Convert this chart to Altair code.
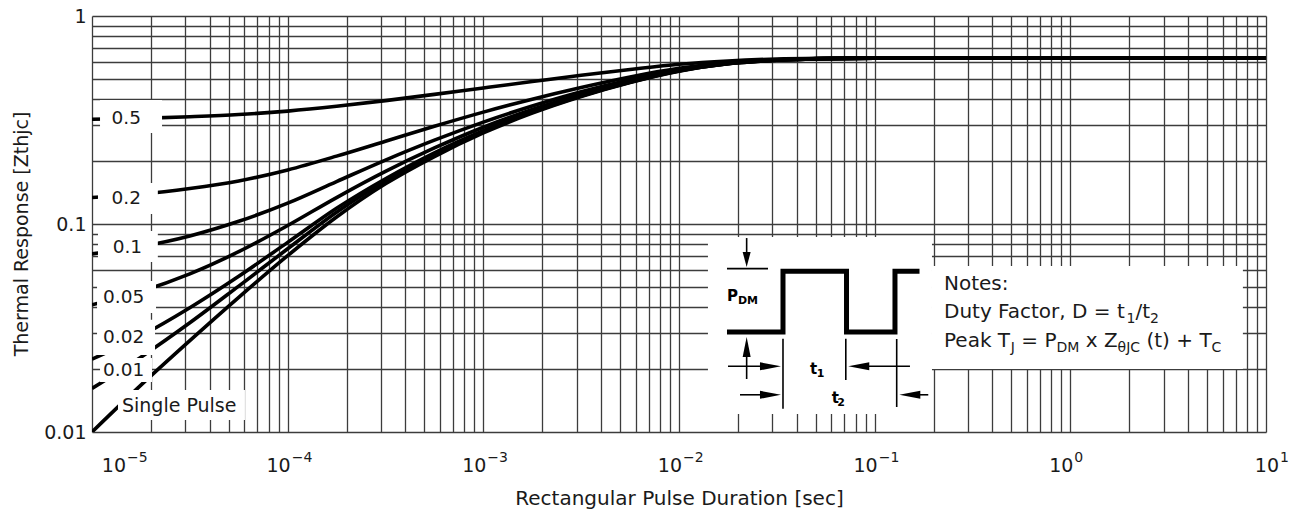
import altair as alt
import pandas as pd

# ---------------- data ----------------
t_vals = [1e-5, 1.778e-5, 3.162e-5, 5.623e-5, 1e-4, 1.778e-4, 3.162e-4, 5.623e-4, 1e-3, 1.778e-3,
          3.162e-3, 5.623e-3, 1e-2, 1.778e-2, 3.162e-2, 5.623e-2, 1e-1, 1, 10]

z_d050 = [0.319, 0.322, 0.328, 0.336, 0.349, 0.368, 0.392, 0.420, 0.451, 0.484,
          0.519, 0.553, 0.586, 0.608, 0.621, 0.626, 0.628, 0.628, 0.628]
z_d020 = [0.134, 0.139, 0.148, 0.161, 0.182, 0.212, 0.250, 0.295, 0.345, 0.398,
          0.453, 0.509, 0.560, 0.597, 0.616, 0.625, 0.627, 0.628, 0.628]
z_d010 = [0.0718, 0.0779, 0.0876, 0.103, 0.126, 0.160, 0.203, 0.253, 0.309, 0.369,
          0.432, 0.494, 0.552, 0.593, 0.615, 0.624, 0.627, 0.628, 0.628]
z_d005 = [0.0409, 0.0474, 0.0576, 0.0736, 0.0983, 0.134, 0.179, 0.232, 0.292, 0.355,
          0.421, 0.486, 0.548, 0.591, 0.614, 0.624, 0.627, 0.628, 0.628]
z_d002 = [0.0224, 0.0290, 0.0396, 0.0561, 0.0816, 0.119, 0.165, 0.220, 0.281, 0.347,
          0.414, 0.482, 0.545, 0.590, 0.614, 0.624, 0.627, 0.628, 0.628]
z_d001 = [0.0162, 0.0229, 0.0335, 0.0503, 0.0760, 0.114, 0.161, 0.216, 0.278, 0.344,
          0.412, 0.480, 0.544, 0.589, 0.613, 0.624, 0.627, 0.628, 0.628]
z_single = [0.0100, 0.0168, 0.0275, 0.0444, 0.0704, 0.108, 0.156, 0.211, 0.274, 0.341,
            0.410, 0.479, 0.543, 0.589, 0.613, 0.624, 0.627, 0.628, 0.628]

series_names = ["0.5", "0.2", "0.1", "0.05", "0.02", "0.01", "Single Pulse"]
series_vals = [z_d050, z_d020, z_d010, z_d005, z_d002, z_d001, z_single]

# curve labels (left edge / baseline, in data units)
lab_text = ["0.5", "0.2", "0.1", "0.05", "0.02", "0.01"]
lab_t = [1.258e-5, 1.258e-5, 1.276e-5, 1.138e-5, 1.138e-5, 1.138e-5]
lab_z = [0.3026, 0.1248, 0.0728, 0.04157, 0.02688, 0.01859]
sp_text = ["Single Pulse"]
sp_t = [1.423e-5]
sp_z = [0.01252]

# white label / inset backgrounds
box_t = [1.099e-5, 1.073e-5, 1.073e-5, 1.061e-5, 1.061e-5, 1.099e-5, 1.358e-5, 0.01406, 0.1963]
box_t2 = [2.28e-5, 2.17e-5, 2.17e-5, 2.124e-5, 2.10e-5, 2.026e-5, 6.05e-5, 0.1963, 7.62]
box_z = [0.3947, 0.1575, 0.0925, 0.0532, 0.0346, 0.0227, 0.01592, 0.0866, 0.0628]
box_z2 = [0.2739, 0.1117, 0.0657, 0.03734, 0.02345, 0.0174, 0.01142, 0.01221, 0.0201]

# pulse diagram
pulse_t = [0.01759, 0.0340, 0.0340, 0.0718, 0.0718, 0.1270, 0.1270, 0.1695]
pulse_z = [0.03026, 0.03026, 0.05925, 0.05925, 0.03026, 0.03026, 0.05925, 0.05925]

rule_t = [0.01759, 0.02217, 0.02217, 0.01780, 0.0340, 0.0712, 0.0892, 0.1296, 0.0205, 0.1608]
rule_t2 = [0.0285, 0.02217, 0.02217, 0.0275, 0.0340, 0.0712, 0.1515, 0.1296, 0.0275, 0.1879]
rule_z = [0.0610, 0.0856, 0.02424, 0.02070, 0.02809, 0.02809, 0.02070, 0.02800, 0.0151, 0.0151]
rule_z2 = [0.0610, 0.0686, 0.01798, 0.02070, 0.01294, 0.01778, 0.02070, 0.01319, 0.0151, 0.0151]

arrow_t = [0.02217, 0.02217, 0.0332, 0.0733, 0.0332, 0.1336]
arrow_z = [0.0621, 0.02862, 0.02070, 0.02070, 0.0151, 0.0151]
arrow_dir = ["down", "up", "right", "left", "right", "left"]

diag_txt = ["P", "DM", "t", "1", "t", "2"]
diag_t = [0.01759, 0.02002, 0.04671, 0.05054, 0.0603, 0.06442]
diag_z = [0.04263, 0.04137, 0.01907, 0.01838, 0.01383, 0.01334]
diag_fs = [15, 11, 15, 11, 15, 11]

note_txt = ["Notes:", "Duty Factor, D = t", "1", "/t", "2",
            "Peak T", "J", "= P", "DM", "x Z", "θJC", "(t) + T", "C"]
note_t = [0.2261, 0.2261, 1.939, 2.153, 2.556,
          0.2261, 0.4962, 0.5615, 0.8487, 1.198, 1.744, 2.450, 5.272]
note_z = [0.04817, 0.03532, 0.03342, 0.03532, 0.03342,
          0.02563, 0.02424, 0.02563, 0.02424, 0.02563, 0.02424, 0.02563, 0.02424]
note_fs = [20, 20, 14, 20, 14, 20, 14, 20, 14, 20, 14, 20, 14]

# x tick labels (10^n)
xlab_t = [1.44e-5, 1e-4, 1e-3, 1e-2, 1e-1, 1, 11.25]
xlab_exp = ["\u22125", "\u22124", "\u22123", "\u22122", "\u22121", "0", "1"]

x_grid = [k * 10.0 ** n for n in range(-5, 1) for k in range(1, 10)] + [10.0]
y_grid = [k * 10.0 ** n for n in (-2, -1) for k in range(1, 10)] + [1.0]

# ---------------- build tables ----------------
rows = []
for name, vals in zip(series_names, series_vals):
    for t, z in zip(t_vals, vals):
        rows.append({"t": t, "z": z, "D": name})
curves = pd.DataFrame(rows)

labels_df = pd.DataFrame({"t": lab_t, "z": lab_z, "txt": lab_text})
sp_df = pd.DataFrame({"t": sp_t, "z": sp_z, "txt": sp_text})
boxes_df = pd.DataFrame({"t": box_t, "t2": box_t2, "z": box_z, "z2": box_z2})
pulse_df = pd.DataFrame({"t": pulse_t, "z": pulse_z, "o": list(range(len(pulse_t)))})
rules_df = pd.DataFrame({"t": rule_t, "t2": rule_t2, "z": rule_z, "z2": rule_z2})
arrows_df = pd.DataFrame({"t": arrow_t, "z": arrow_z, "dir": arrow_dir})
diag_df = pd.DataFrame({"t": diag_t, "z": diag_z, "txt": diag_txt, "fs": diag_fs})
notes_df = pd.DataFrame({"t": note_t, "z": note_z, "txt": note_txt, "fs": note_fs})
xlab_df = pd.DataFrame({"t": xlab_t, "base": ["10"] * len(xlab_t), "exp": xlab_exp})

GRID = "#3c3c3c"
TXT = "#1a1a1a"

xs = alt.Scale(type="log", domain=[1e-5, 10], nice=False)
ys = alt.Scale(type="log", domain=[0.01, 1], nice=False)

x_axis = alt.Axis(values=x_grid, labels=False, ticks=False, domain=False, grid=True,
                  gridColor=GRID, gridWidth=1.3, title="Rectangular Pulse Duration [sec]",
                  titleFontSize=20, titleFontWeight="normal", titleColor=TXT,
                  titleX=587, titleY=66, titleBaseline="middle", titleAlign="center")
y_axis = alt.Axis(values=y_grid,
                  labelExpr="datum.value > 0.99 ? '1' : (abs(datum.value - 0.1) < 1e-9 ? '0.1' : (abs(datum.value - 0.01) < 1e-9 ? '0.01' : ''))",
                  labelFontSize=19, labelColor=TXT, labelPadding=6, labelOverlap=False,
                  ticks=False, domain=False, grid=True, gridColor=GRID, gridWidth=1.3,
                  title="Thermal Response [Zthjc]", titleFontSize=19, titleFontWeight="normal",
                  titleColor=TXT, titleX=-71, titleY=217.5, titleBaseline="middle",
                  titleAlign="center", titleAngle=270)

X = alt.X("t:Q", scale=xs, axis=x_axis)
Y = alt.Y("z:Q", scale=ys, axis=y_axis)

curve_layer = alt.Chart(curves).mark_line(
    color="black", strokeWidth=3.6, interpolate="monotone", clip=True
).encode(x=X, y=Y, detail="D:N")

box_layer = alt.Chart(boxes_df).mark_rect(color="white", opacity=1).encode(
    x=X, x2="t2:Q", y=Y, y2="z2:Q")

lab_layer = alt.Chart(labels_df).mark_text(
    align="left", baseline="alphabetic", fontSize=18.5, color=TXT
).encode(x=X, y=Y, text="txt:N")

sp_layer = alt.Chart(sp_df).mark_text(
    align="left", baseline="alphabetic", fontSize=19, color=TXT
).encode(x=X, y=Y, text="txt:N")

pulse_layer = alt.Chart(pulse_df).mark_line(
    color="black", strokeWidth=5, strokeJoin="miter", strokeCap="butt", interpolate="linear"
).encode(x=X, y=Y, order="o:Q")

rule_layer = alt.Chart(rules_df).mark_rule(color="black", strokeWidth=1.6).encode(
    x=X, x2="t2:Q", y=Y, y2="z2:Q")

arrow_layer = alt.Chart(arrows_df).mark_point(
    filled=True, size=100, color="black", opacity=1, strokeWidth=0
).encode(
    x=X, y=Y,
    shape=alt.Shape("dir:N", legend=None, scale=alt.Scale(
        domain=["down", "up", "right", "left"],
        range=["M0,0L-0.8,-3L0.8,-3Z", "M0,0L-0.8,4L0.8,4Z",
               "M0,0L-4.2,-0.8L-4.2,0.8Z", "M0,0L4.2,-0.8L4.2,0.8Z"])))

diag_text = alt.Chart(diag_df).mark_text(
    align="left", baseline="alphabetic", fontWeight="bold", color="black"
).encode(x=X, y=Y, text="txt:N", size=alt.Size("fs:Q", scale=None, legend=None))

notes_text = alt.Chart(notes_df).mark_text(
    align="left", baseline="alphabetic", color=TXT
).encode(x=X, y=Y, text="txt:N", size=alt.Size("fs:Q", scale=None, legend=None))

xlab_base = alt.Chart(xlab_df).mark_text(
    align="right", baseline="alphabetic", fontSize=19, dx=3, color=TXT
).encode(x=X, y=alt.value(456), text="base:N")

xlab_exp_layer = alt.Chart(xlab_df).mark_text(
    align="left", baseline="alphabetic", fontSize=14, dx=4, color=TXT
).encode(x=X, y=alt.value(446), text="exp:N")

chart = alt.layer(
    curve_layer, box_layer, lab_layer, sp_layer, pulse_layer, rule_layer,
    arrow_layer, diag_text, notes_text, xlab_base, xlab_exp_layer
).properties(
    width=1174, height=416,
    autosize=alt.AutoSizeParams(type="none"),
    padding={"left": 92, "top": 16, "right": 33, "bottom": 83},
    background="white"
).configure(font="DejaVu Sans").configure_view(stroke=None)

chart.save("out.html", embed_options={"renderer": "svg", "actions": False})
